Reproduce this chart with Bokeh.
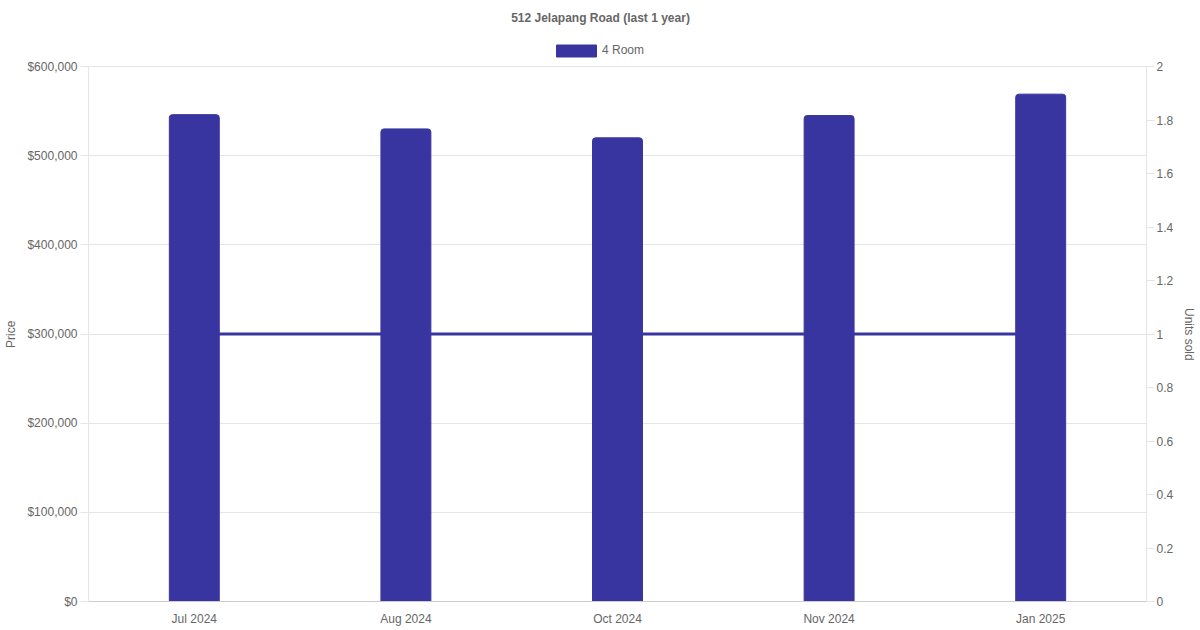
from bokeh.plotting import figure
from bokeh.models import (Range1d, LinearAxis, FixedTicker, NumeralTickFormatter,
                          Legend, LegendItem, FactorRange, Label)
from bokeh.embed import file_html
from bokeh.resources import INLINE

months = ["Jul 2024", "Aug 2024", "Oct 2024", "Nov 2024", "Jan 2025"]
prices = [546000, 530000, 520000, 545000, 569000]
units = [1, 1, 1, 1, 1]
price_ticks = [0, 100000, 200000, 300000, 400000, 500000, 600000]
unit_ticks = [0, 0.2, 0.4, 0.6, 0.8, 1, 1.2, 1.4, 1.6, 1.8, 2]
series_name = "4 Room"
title_text = "512 Jelapang Road (last 1 year)"
left_label = "Price"
right_label = "Units sold"

FONT = "Liberation Sans"
TXT = "#666666"
GRID = "#e5e5e5"
BAR = "#3935a0"

W, H = 1200, 630
BORDER_LEFT, BORDER_RIGHT, BORDER_BOTTOM = 88, 54, 29
FRAME_H = H - BORDER_BOTTOM          # frame starts at the very top
AXIS_H = 535                          # height of the 0..600k scale in px
PRICE_MAX = price_ticks[-1]
UNIT_MAX = unit_ticks[-1]
ext = FRAME_H / AXIS_H                # headroom above the axes for title/legend

# axis titles are centred on the whole frame; pad them with no-break spaces so the
# visible words sit at the middle of the scaled part of the axes
PAD = "\u00a0" * 20

p = figure(width=W, height=H, x_range=FactorRange(*months),
           y_range=Range1d(0, PRICE_MAX * ext), output_backend="svg",
           toolbar_location=None, min_border_left=BORDER_LEFT,
           min_border_right=BORDER_RIGHT, min_border_top=0,
           min_border_bottom=BORDER_BOTTOM)
p.outline_line_color = None
p.extra_y_ranges = {"units": Range1d(0, UNIT_MAX * ext)}

p.line(x=months, y=units, y_range_name="units", line_color=BAR, line_width=3)
bars = p.vbar(x=months, top=prices, width=0.236, fill_color=BAR, line_color=BAR,
              line_width=1, border_radius=(3, 3, 0, 0))

p.xgrid.grid_line_color = None
p.ygrid.grid_line_color = GRID
p.ygrid.ticker = FixedTicker(ticks=price_ticks)

ya = p.yaxis[0]
ya.ticker = FixedTicker(ticks=price_ticks)
ya.formatter = NumeralTickFormatter(format="$0,0")
ya.axis_label = left_label + PAD
ya.bounds = (0, PRICE_MAX)

ra = LinearAxis(y_range_name="units", ticker=FixedTicker(ticks=unit_ticks),
                formatter=NumeralTickFormatter(format="0.[0]"),
                axis_label=PAD + right_label, bounds=(0, UNIT_MAX))
p.add_layout(ra, "right")

for ax in [ya, ra]:
    ax.axis_line_color = GRID
    ax.major_tick_line_color = GRID
    ax.major_tick_out = 8
    ax.major_tick_in = 0
    ax.minor_tick_line_color = None
    ax.axis_label_text_font_style = "normal"
ya.major_label_standoff = 3
ya.axis_label_standoff = 6
ra.major_label_standoff = 2
ra.axis_label_standoff = 6

xa = p.xaxis[0]
xa.axis_line_color = "#cccccc"
xa.major_tick_line_color = None
xa.minor_tick_line_color = None
xa.major_tick_out = 0
xa.major_tick_in = 0
xa.major_label_standoff = 10
xa.axis_label_standoff = 0

for ax in [ya, ra, xa]:
    ax.major_label_text_font = FONT
    ax.major_label_text_font_size = "12px"
    ax.major_label_text_color = TXT
    ax.axis_label_text_font = FONT
    ax.axis_label_text_font_size = "12px"
    ax.axis_label_text_color = TXT

# title (screen units are measured from the frame's bottom-left corner)
p.add_layout(Label(x=W / 2 - BORDER_LEFT, y=FRAME_H - 17, x_units="screen",
                   y_units="screen", text=title_text, text_align="center",
                   text_baseline="middle", text_font=FONT, text_font_size="12px",
                   text_font_style="bold", text_color=TXT))

legend = Legend(items=[LegendItem(label=series_name, renderers=[bars])],
                orientation="horizontal", location=(463, FRAME_H - 57.5),
                glyph_width=50, glyph_height=15, label_text_font=FONT,
                label_text_font_size="12px", label_text_color=TXT,
                border_line_color=None, background_fill_alpha=0,
                padding=0, margin=0, spacing=0, label_standoff=1,
                label_height=12)
p.add_layout(legend, "center")

open("out.html", "w").write(file_html(p, INLINE))
